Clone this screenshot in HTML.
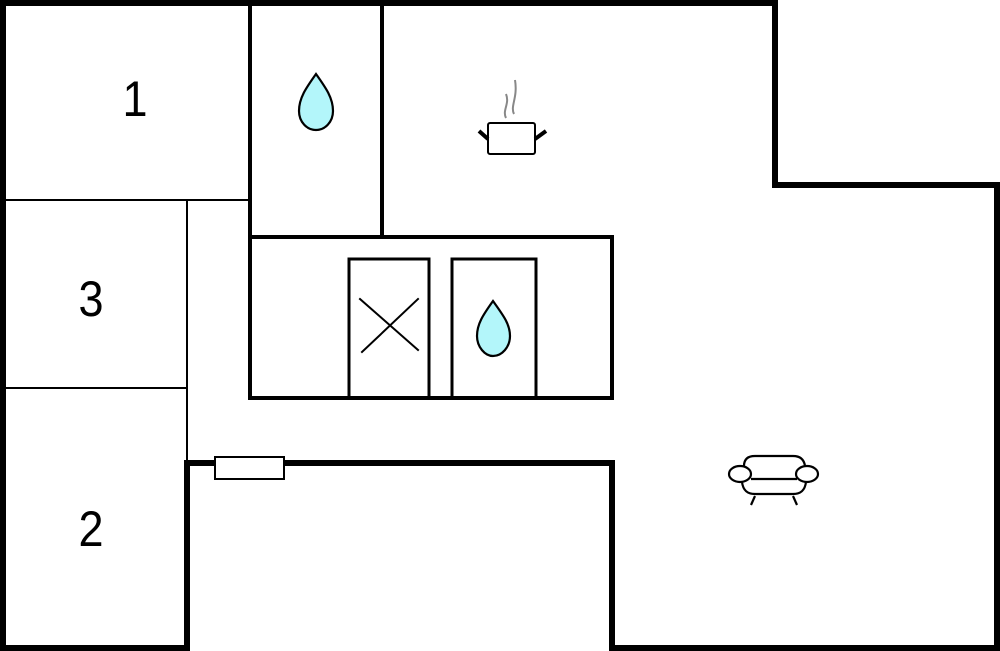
<!DOCTYPE html>
<html><head><style>html,body{margin:0;padding:0;background:#fff}svg{display:block}</style></head>
<body>
<svg width="1000" height="651" viewBox="0 0 1000 651" xmlns="http://www.w3.org/2000/svg">
<g fill="none" stroke="#000" stroke-linecap="square">
<path d="M187 648 H3 V3 H775 V185 H997 V648 H612 V463 H187 Z" stroke-width="6"/>
<line x1="3" y1="200" x2="250" y2="200" stroke-width="2"/>
<line x1="187" y1="200" x2="187" y2="463" stroke-width="2"/>
<line x1="3" y1="388" x2="187" y2="388" stroke-width="2"/>
<line x1="250" y1="3" x2="250" y2="237" stroke-width="4"/>
<line x1="382" y1="3" x2="382" y2="237" stroke-width="4"/>
<rect x="250" y="237" width="362" height="161" stroke-width="4"/>
<rect x="349" y="259" width="80" height="139" stroke-width="3"/>
<rect x="452" y="259" width="84" height="139" stroke-width="3"/>
<line x1="360" y1="299" x2="418" y2="350" stroke-width="2"/>
<line x1="362" y1="352" x2="418" y2="299" stroke-width="2"/>
<rect x="215" y="457" width="69" height="22" stroke-width="2" fill="#fff"/>
</g>
<g font-family="Liberation Sans, sans-serif" font-size="50" text-anchor="middle" fill="#000">
<text x="135" y="116" transform="translate(135 0) scale(0.9 1) translate(-135 0)">1</text>
<text x="91" y="316" transform="translate(91 0) scale(0.9 1) translate(-91 0)">3</text>
<text x="91" y="546" transform="translate(91 0) scale(0.9 1) translate(-91 0)">2</text>
</g>
<g fill="#b3f6fa" stroke="#000" stroke-width="2.2">
<path d="M316 74 C306 88 299 98 299 111 C299 122 307 130 316 130 C325 130 333 122 333 111 C333 98 326 88 316 74 Z"/>
<path d="M493 301 C483 315 477 324 477 336 C477 347 485 356 493 356 C502 356 510 347 510 336 C510 324 503 315 493 301 Z"/>
</g>
<g fill="none" stroke="#000">
<rect x="488" y="123" width="47" height="31" rx="2" stroke-width="2"/>
<line x1="479" y1="131" x2="488" y2="139" stroke-width="4"/>
<line x1="535" y1="139" x2="546" y2="131" stroke-width="4"/>
<path d="M506 118 C502 110 510 104 506 94 M514 114 C510 106 518 98 515 80" stroke="#888" stroke-width="2"/>
<g stroke-width="2.2">
<path d="M744 466 C744 459 748 456 755 456 H793 C800 456 804 459 805 466"/>
<ellipse cx="740" cy="474" rx="11" ry="8"/>
<ellipse cx="807" cy="474" rx="11" ry="8"/>
<line x1="751" y1="479" x2="797" y2="479"/>
<path d="M742 482 C743 490 747 494 755 494 H793 C801 494 805 490 806 482"/>
<line x1="755" y1="496" x2="751" y2="505"/>
<line x1="793" y1="496" x2="797" y2="505"/>
</g>
</g>
</svg>
</body></html>
